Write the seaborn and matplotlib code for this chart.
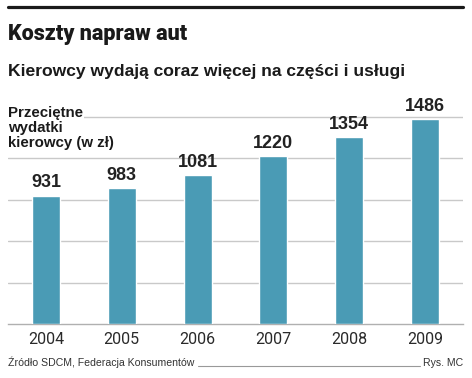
import matplotlib
matplotlib.use("Agg")
import matplotlib.pyplot as plt
import seaborn as sns
import pandas as pd
from matplotlib.lines import Line2D

years = ["2004", "2005", "2006", "2007", "2008", "2009"]
values = [931, 983, 1081, 1220, 1354, 1486]
grid_ticks = [300, 600, 900, 1200, 1500]

title = "Koszty napraw aut"
subtitle = "Kierowcy wydają coraz więcej na części i usługi"
ylabel_lines = ["Przeciętne", "wydatki", "kierowcy (w zł)"]
source = "Źródło SDCM, Federacja Konsumentów"
credit = "Rys. MC"

sns.set_theme(style="white")
plt.rcParams['font.family'] = ['Liberation Sans', 'DejaVu Sans']

W, H = 472, 378
fig = plt.figure(figsize=(W / 100, H / 100), dpi=100)
ax = fig.add_axes([8 / W, (H - 324) / H, 455 / W, 214 / H])

df = pd.DataFrame({"year": years, "value": values})
sns.barplot(data=df, x="year", y="value", color="#4a9bb5", saturation=1,
            width=0.37, ax=ax, zorder=3)

ax.set_ylim(0, 1551)
ax.set_xlim(-0.5, 5.5)
ax.set_yticks(grid_ticks)
ax.set_yticklabels([])
ax.yaxis.grid(True, color="#c9c9c9", linewidth=1.0)
ax.set_axisbelow(True)
ax.tick_params(axis="y", length=0)
ax.tick_params(axis="x", length=0, pad=6, labelsize=11.5, labelcolor="#2a2a2a")
for lab in ax.get_xticklabels():
    lab.set_fontfamily(["Roboto", "Liberation Sans"])
    lab.set_fontweight("normal")
for s in ["top", "left", "right"]:
    ax.spines[s].set_visible(False)
ax.spines["bottom"].set_color("#b0b0b0")
ax.spines["bottom"].set_linewidth(1.0)
ax.set_xlabel("")
ax.set_ylabel("")

ax.bar_label(ax.containers[0], labels=[str(v) for v in values], padding=3,
             fontsize=13, fontweight="bold", color="#222222")

# top rule
fig.add_artist(Line2D([8 / W, 463 / W], [1 - 6.5 / H, 1 - 6.5 / H], color="#1a1a1a",
                      linewidth=2.3, transform=fig.transFigure))

fig.text(8 / W, 1 - 40 / H, title, fontsize=15.5, fontweight=900,
         fontfamily=["Roboto", "DejaVu Sans"], color="#1a1a1a",
         va="baseline", ha="left")

fig.text(8 / W, 1 - 76 / H, subtitle, fontsize=12.6, fontweight="bold",
         color="#1a1a1a", va="baseline", ha="left")

for i, line in enumerate(ylabel_lines):
    kw = {}
    if i == 0:
        kw["bbox"] = dict(facecolor="white", edgecolor="none", pad=1.0)
    fig.text(8 / W, 1 - (117 + 15 * i) / H, line, fontsize=10.8, fontweight="bold",
             color="#1a1a1a", va="baseline", ha="left", **kw)

fig.text(8 / W, 1 - 366 / H, source, fontsize=7.6, color="#333333",
         va="baseline", ha="left")
fig.text(463 / W, 1 - 366 / H, credit, fontsize=7.6, color="#333333",
         va="baseline", ha="right")
fig.add_artist(Line2D([198 / W, 420 / W], [1 - 366 / H, 1 - 366 / H], color="#999999",
                      linewidth=0.8, transform=fig.transFigure))

fig.savefig("out.png", dpi=100)
